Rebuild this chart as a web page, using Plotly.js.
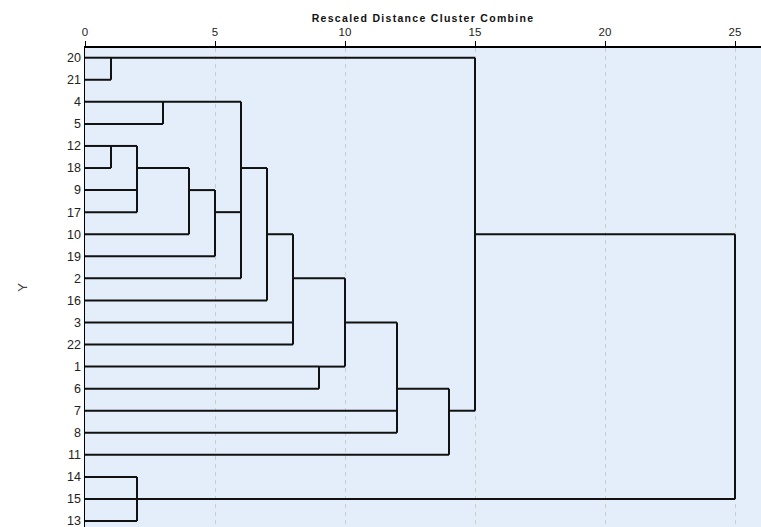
<!DOCTYPE html>
<html>
<head>
<meta charset="utf-8">
<script src="https://cdn.plot.ly/plotly-3.0.1.min.js"></script>
<style>html,body{margin:0;padding:0;background:#fff;}</style>
</head>
<body>
<div id="chart" style="width:761px;height:527px;"></div>
<script>
// Leaves, top to bottom
const leafLabels = ['20','21','4','5','12','18','9','17','10','19','2','16','3','22','1','6','7','8','11','14','15','13'];
// Distance at which each leaf first joins a cluster
const leafJoin = [1,1,3,3,1,1,2,2,4,5,6,7,8,8,9,9,12,12,14,2,2,2];
// Merges: distance, vertical span (top row, bottom row), row of the outgoing line, parent merge distance
const mergeDist   = [1, 3, 1, 2, 4, 5, 6, 7, 8, 9, 10, 12, 14, 15, 2, 25];
const mergeTop    = [0, 2, 4, 4, 5, 6, 2, 5, 8, 14, 10, 12, 15, 0, 19, 8];
const mergeBottom = [1, 3, 5, 7, 8, 9, 10, 11, 13, 15, 14, 17, 18, 16, 21, 20];
const mergeOutRow = [0, 2, 4, 5, 6, 7, 5, 8, 10, 14, 12, 15, 16, 8, 20, null];
const mergeParent = [15, 6, 2, 4, 5, 6, 7, 8, 10, 10, 12, 14, 15, 25, 25, null];
const xTicks = [0, 5, 10, 15, 20, 25];

const xs = [], ys = [];
leafLabels.forEach((lab, i) => { xs.push(0, leafJoin[i], null); ys.push(i, i, null); });
mergeDist.forEach((d, k) => {
  xs.push(d, d, null); ys.push(mergeTop[k], mergeBottom[k], null);
  if (mergeOutRow[k] !== null) {
    xs.push(d, mergeParent[k], null); ys.push(mergeOutRow[k], mergeOutRow[k], null);
  }
});

const trace = {
  type: 'scatter', mode: 'lines', x: xs, y: ys,
  line: {color: '#111', width: 2}, hoverinfo: 'skip', showlegend: false, connectgaps: false
};

const font = 'Liberation Sans, Arial, sans-serif';
const layout = {
  width: 761, height: 527,
  margin: {l: 85, r: 0, t: 48, b: 0, pad: 0},
  paper_bgcolor: '#ffffff', plot_bgcolor: '#e3eefa',
  font: {family: font, color: '#222'},
  showlegend: false,
  xaxis: {
    side: 'top', range: [0, 26], tickvals: xTicks, ticktext: xTicks.map(String),
    showline: true, linecolor: '#000', linewidth: 2, mirror: false,
    ticks: 'outside', ticklen: 5, tickwidth: 1, tickcolor: '#000',
    showgrid: true, gridcolor: '#cdcdcd', griddash: '4px,4px', gridwidth: 1,
    zeroline: false, automargin: false,
    tickfont: {family: font, size: 11.5, color: '#222'},
    title: {text: 'Rescaled Distance Cluster Combine', standoff: 2,
            font: {family: font, size: 10.5, weight: 'bold', color: '#111'}}
  },
  yaxis: {
    range: [21.27, -0.44], tickvals: leafLabels.map((_, i) => i), ticktext: leafLabels,
    showline: true, linecolor: '#000', linewidth: 1.5,
    ticks: '', showgrid: false, zeroline: false, automargin: false,
    ticklabeloverflow: 'allow',
    tickfont: {family: font, size: 12.5, color: '#222'},
    title: {text: 'Y', standoff: 36, font: {family: font, size: 13, color: '#444'}}
  }
};

Plotly.newPlot('chart', [trace], layout, {displayModeBar: false, staticPlot: true}).then(() => {
  document.querySelectorAll('.g-xtitle text').forEach(t => t.style.letterSpacing = '1.3px');
});
</script>
</body>
</html>
